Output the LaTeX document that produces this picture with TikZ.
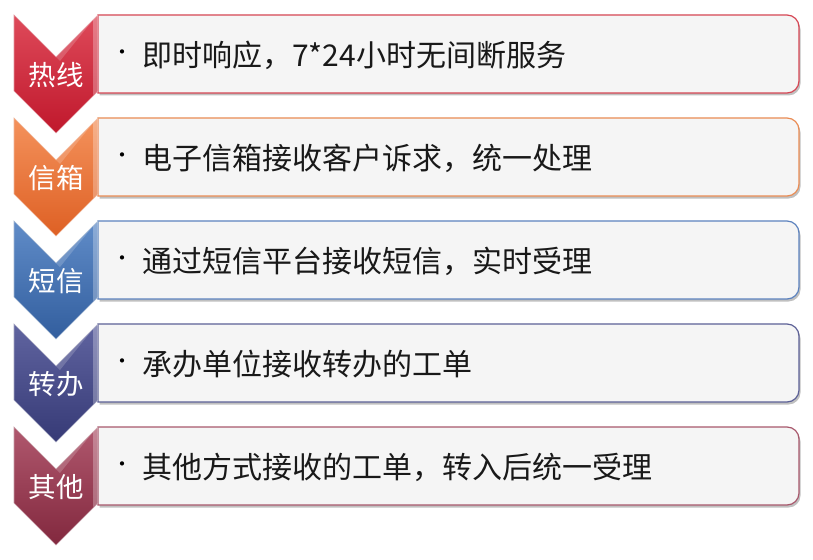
\documentclass[tikz,border=0pt]{standalone}
\usepackage{fontspec}
\newfontfamily\cjk{Noto Sans CJK SC}
\usetikzlibrary{shadows}
\definecolor{cAt}{RGB}{222,74,90}\definecolor{cAb}{RGB}{192,24,44}\definecolor{cAl}{RGB}{214,70,84}
\definecolor{cBt}{RGB}{244,146,92}\definecolor{cBb}{RGB}{222,96,36}\definecolor{cBl}{RGB}{234,140,84}
\definecolor{cCt}{RGB}{96,140,200}\definecolor{cCb}{RGB}{50,94,158}\definecolor{cCl}{RGB}{92,130,190}
\definecolor{cDt}{RGB}{96,100,160}\definecolor{cDb}{RGB}{54,58,118}\definecolor{cDl}{RGB}{92,96,150}
\definecolor{cEt}{RGB}{176,88,110}\definecolor{cEb}{RGB}{130,40,62}\definecolor{cEl}{RGB}{168,88,108}
\begin{document}
\begin{tikzpicture}[x=1pt,y=-1pt,
  boxstyle/.style={line width=1.2pt, fill=black!4,
    drop shadow={shadow xshift=1.5pt, shadow yshift=-2.5pt, opacity=.35, fill=black!70}},
  chevstyle/.style={draw=white!55!#1, line width=0.6pt},
  labstyle/.style={text=white, font=\cjk\fontsize{27.5}{30}\selectfont, inner sep=0pt},
  bulstyle/.style={text=black, font=\cjk\fontsize{20}{24}\selectfont, inner sep=0pt},
  txtstyle/.style={text=black!90, font=\cjk\fontsize{30}{33}\selectfont, inner sep=0pt, anchor=west}]
\useasboundingbox[fill=white] (0,0) rectangle (813,559);
\foreach \t/\c/\lab/\txt/\n in {
  15/cA/热线/{即时响应，7*24小时无间断服务}/1,
  118/cB/信箱/{电子信箱接收客户诉求，统一处理}/2,
  221/cC/短信/{通过短信平台接收短信，实时受理}/3,
  324/cD/转办/{承办单位接收转办的工单}/4,
  427/cE/其他/{其他方式接收的工单，转入后统一受理}/5}{
  % box
  \draw[boxstyle, draw=\c l] (98,\t) [rounded corners=12pt] -- (799,\t) -- (799,\t+78) [sharp corners] -- (98,\t+78) -- cycle;
  % chevron
  \shade[top color=\c t, bottom color=\c b, chevstyle=\c b]
    (14,\t) -- (56,\t+42) -- (98,\t) -- (98,\t+76) -- (56,\t+118) -- (14,\t+76) -- cycle;
  \fill[white, opacity=.28] (98,\t) -- (98,\t+76) -- (93,\t+80) -- (93,\t+5) -- cycle;
  \fill[white, opacity=.18] (98,\t) -- (56,\t+42) -- (60,\t+46) -- (93,\t+5) -- cycle;
  \node[labstyle] (lab\n) at (56,\t+60) {\lab};
  \node[bulstyle] (bul\n) at (122,\t+40) {·};
  \node[txtstyle] (txt\n) at (142,\t+40) {\txt};
}
\end{tikzpicture}
\end{document}
